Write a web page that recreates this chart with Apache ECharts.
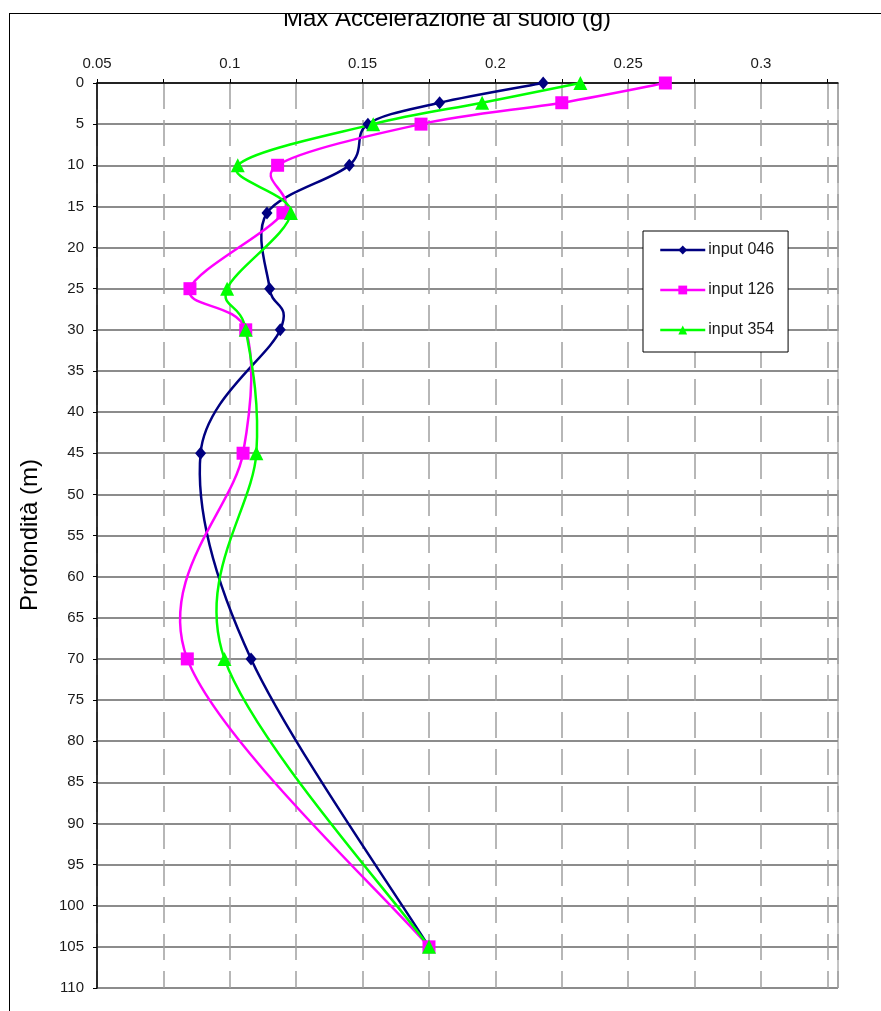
<!DOCTYPE html>
<html>
<head>
<meta charset="utf-8">
<script src="https://cdn.jsdelivr.net/npm/echarts@6/dist/echarts.min.js"></script>
<style>
  html, body { margin: 0; padding: 0; background: #fff; }
  #frame {
    position: absolute; left: 9px; top: 13px; width: 900px; height: 1010px;
    border-left: 1px solid #000; border-top: 1px solid #000;
    overflow: hidden;
  }
  #chart { position: absolute; left: -10px; top: -14px; width: 881px; height: 1011px; }
</style>
</head>
<body>
<div id="frame"><div id="chart"></div></div>
<script>
// depth (m) of each sample
const depths = [0, 2.4, 5, 10, 15.8, 25, 30, 45, 70, 105];
// max acceleration (g) per input
const acc046 = [0.218, 0.179, 0.152, 0.145, 0.114, 0.115, 0.119, 0.089, 0.108, 0.175];
const acc126 = [0.264, 0.225, 0.172, 0.118, 0.120, 0.085, 0.106, 0.105, 0.084, 0.175];
const acc354 = [0.232, 0.195, 0.154, 0.103, 0.123, 0.099, 0.106, 0.110, 0.098, 0.175];
const seriesNames = ['input 046', 'input 126', 'input 354'];

const pairs = (acc) => acc.map((v, i) => [v, depths[i]]);
const font = 'Liberation Sans, Arial, sans-serif';

const chart = echarts.init(document.getElementById('chart'));

// markers + legend entry
const mkSeries = (name, acc, color, symbol, size) => ({
    name: name,
    type: 'line',
    data: pairs(acc),
    symbol: symbol,
    symbolSize: size,
    lineStyle: { color: color, width: 2.5, opacity: 0 },
    itemStyle: { color: color },
    z: 4
});

// excel-like smoothed curve (catmull-rom through the points)
const mkCurve = (acc, color) => ({
    type: 'custom',
    coordinateSystem: 'cartesian2d',
    silent: true,
    z: 3,
    data: [[acc[0], depths[0]]],
    renderItem: (params, api) => {
        const p = pairs(acc).map(d => api.coord(d));
        let d = 'M' + p[0][0] + ' ' + p[0][1];
        for (let i = 0; i < p.length - 1; i++) {
            const p0 = p[i - 1] || p[i], p1 = p[i], p2 = p[i + 1], p3 = p[i + 2] || p[i + 1];
            const c1 = [p1[0] + (p2[0] - p0[0]) / 6, p1[1] + (p2[1] - p0[1]) / 6];
            const c2 = [p2[0] - (p3[0] - p1[0]) / 6, p2[1] - (p3[1] - p1[1]) / 6];
            d += ' C' + c1.join(' ') + ' ' + c2.join(' ') + ' ' + p2.join(' ');
        }
        return {
            type: 'path',
            shape: { pathData: d },
            style: { fill: 'none', stroke: color, lineWidth: 2.5 }
        };
    }
});

const option = {
    animation: false,
    textStyle: { fontFamily: font },
    grid: {
        left: 97, top: 83, right: 43, bottom: 23,
        show: true, borderColor: '#8a8a8a', borderWidth: 1
    },
    xAxis: {
        type: 'value',
        position: 'top',
        min: 0.05,
        max: 0.329,
        interval: 0.025,
        axisLine: { show: true, lineStyle: { color: '#000', width: 1.5 } },
        axisTick: { show: true, length: 4, lineStyle: { color: '#000' } },
        axisLabel: {
            margin: 12, color: '#1a1a1a', fontSize: 15, fontFamily: font,
            showMaxLabel: false,
            formatter: v => (Math.abs(v * 20 - Math.round(v * 20)) < 1e-6 ? String(+v.toFixed(2)) : '')
        },
        splitLine: { show: true, lineStyle: { color: '#a0a0a0', width: 1.5, type: [26, 11] } }
    },
    yAxis: {
        type: 'value',
        inverse: true,
        min: 0,
        max: 110,
        interval: 5,
        axisLine: { show: true, lineStyle: { color: '#000', width: 1.5 } },
        axisTick: { show: true, length: 4, lineStyle: { color: '#000' } },
        axisLabel: { margin: 13, color: '#1a1a1a', fontSize: 15, fontFamily: font },
        splitLine: { show: true, lineStyle: { color: '#8c8c8c', width: 2 } }
    },
    legend: {
        orient: 'vertical',
        left: 643, top: 231,
        padding: [11, 14, 14, 16],
        itemGap: 24,
        itemWidth: 45,
        itemHeight: 11,
        backgroundColor: '#fff',
        borderColor: '#000',
        borderWidth: 1,
        lineStyle: { opacity: 1, width: 2.5 },
        textStyle: { fontSize: 16, color: '#1a1a1a', fontFamily: font, padding: [0, 0, 0, -2] },
        data: seriesNames
    },
    graphic: [
        {
            type: 'text', x: 447, y: 19, z: 10,
            style: { text: 'Max Accelerazione al suolo (g)', font: '24px ' + font, fill: '#000', align: 'center', verticalAlign: 'middle' }
        },
        {
            type: 'text', x: 30, y: 535, rotation: Math.PI / 2, z: 10,
            style: { text: 'Profondità (m)', font: '24px ' + font, fill: '#000', align: 'center', verticalAlign: 'middle' }
        }
    ],
    series: [
        mkSeries(seriesNames[0], acc046, '#000080', 'diamond', [11, 13]),
        mkSeries(seriesNames[1], acc126, '#ff00ff', 'rect', 13),
        mkSeries(seriesNames[2], acc354, '#00ff00', 'triangle', 14),
        mkCurve(acc046, '#000080'),
        mkCurve(acc126, '#ff00ff'),
        mkCurve(acc354, '#00ff00')
    ]
};

chart.setOption(option);
</script>
</body>
</html>
